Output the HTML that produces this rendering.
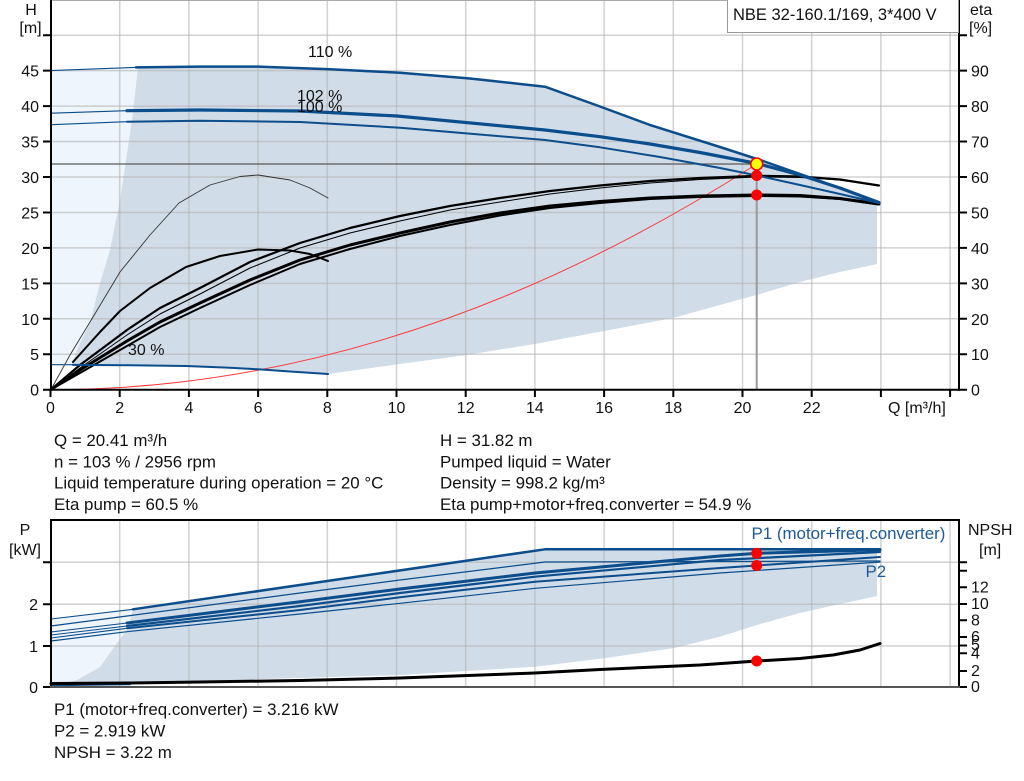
<!DOCTYPE html>
<html><head><meta charset="utf-8"><style>
html,body{margin:0;padding:0;background:#fff;}
svg{display:block;}
text{font-family:"Liberation Sans",Arial,sans-serif;fill:#111;}
</style></head><body>
<svg width="1024" height="781" viewBox="0 0 1024 781" xmlns="http://www.w3.org/2000/svg">
<rect width="1024" height="781" fill="#fff"/>

<!-- ============ TOP CHART ============ -->
<polygon fill="#eef5fc" points="51,70.6 138,67.3 132,120 120,200 110,250 100,283 90,323 80,343 72,363 72,365 51,364.7"/>
<polygon fill="#d0dce8" points="138,67.3 200,66.6 258,66.6 330,69.3 400,72.7 470,78.5 545,86.7 600,106.5 650,125 720,147 763,161 820,181 877,202 877,264 840,272 800,282 760,294 720,305 673,318 600,331.7 535,344 466.7,355 400,364 328,374 290,371.5 258,369.3 230,367.8 186,366 130,365.2 72,365 72,363 80,343 90,323 100,283 110,250 120,200 132,120"/>

<g stroke="#b4b4b4" stroke-opacity="0.6" stroke-width="1.5" fill="none">
  <path d="M119.7,0V389.7M188.9,0V389.7M258.1,0V389.7M327.3,0V389.7M396.5,0V389.7M465.7,0V389.7M534.9,0V389.7M604.1,0V389.7M673.3,0V389.7M742.5,0V389.7M811.7,0V389.7M880.9,0V389.7M950.1,0V389.7"/>
  <path d="M51,354.25H959M51,318.8H959M51,283.35H959M51,247.9H959M51,212.45H959M51,177H959M51,141.55H959M51,106.1H959M51,70.65H959M51,35.2H959"/>
</g>
<line x1="51" y1="0.5" x2="959" y2="0.5" stroke="#aaa" stroke-width="1"/>

<!-- red system curve -->
<path d="M50.5,389.7 Q403.6,389.7 756.7,164" fill="none" stroke="#ff3a3a" stroke-width="1"/>

<!-- operating point lines -->
<line x1="51" y1="164" x2="756.7" y2="164" stroke="#5a5a5a" stroke-width="1.3"/>
<line x1="756.7" y1="164" x2="756.7" y2="389.7" stroke="#999" stroke-width="2"/>

<!-- eta curves -->
<g fill="none" stroke="#000" stroke-linejoin="round" stroke-linecap="round">
  <polyline stroke-width="0.9" stroke="#333" points="51,389.5 70,355 90,322 120,272 150,235 179,203 210,185 240,176.5 258,175 290,180 310,188 328,198"/>
  <polyline stroke-width="2" points="73,362 100,332 120,311 150,288 186,267 220,256 258,249.5 290,250.5 310,254 328,261"/>
  <polyline stroke-width="1" points="51,389.5 80,368 127,335 160,314 200,294 250,268 300,248 350,233 400,221 450,210 500,202 550,194 600,188 650,183 700,179.5 757,177 800,177.5 840,180 879,186"/>
  <polyline stroke-width="2.2" points="51,389.5 80,365 127,330 160,308 200,288 250,262 300,243 350,228 400,216 450,206 500,198 550,191 600,185.5 650,181 700,178 757,175.8 800,176.5 840,179.5 879,185.5"/>
  <polyline stroke-width="2" points="51,389.5 80,373 127,346 160,327 200,308 250,285 300,264 350,249 400,236 450,225 500,215.5 550,208 600,203 650,199 700,197 757,196 800,196.5 840,199 879,204.5"/>
  <polyline stroke-width="3" points="51,389.5 80,370 127,341 160,322 200,303 250,280 300,260 350,245 400,233 450,222 500,213 550,206 600,201.5 650,198 700,196 757,195 800,195.5 840,198.5 879,204"/>
</g>

<!-- blue H curves -->
<g fill="none" stroke="#0c4d8c" stroke-linejoin="round" stroke-linecap="round">
  <polyline stroke-width="1.1" points="51,70.6 138,67.3"/>
  <polyline stroke-width="2.5" points="136,67.4 200,66.6 258,66.6 330,69.3 400,72.7 470,78.5 545,86.7 600,106.5 650,125 720,147 763,161 820,181 879,202.5"/>
  <polyline stroke-width="1.1" points="51,113.2 127,110.7"/>
  <polyline stroke-width="3.2" points="127,110.7 200,110 300,111 397,116 545,130 600,136.7 650,144 700,152.5 757,163.5 800,175 840,188 879,202.5"/>
  <polyline stroke-width="1.1" points="51,124.7 127,121.7"/>
  <polyline stroke-width="2" points="127,121.7 200,120.7 300,122 400,127.7 545,140 600,147.3 660,157 720,168 757,175.5 800,185 840,194 879,203"/>
  <polyline stroke-width="1.1" points="51,364.7 73,364.7"/>
  <polyline stroke-width="2" points="73,364.9 130,365.2 186,366 230,367.8 258,369.3 290,371.5 328,374"/>
</g>

<!-- markers -->
<circle cx="756.7" cy="195" r="5.5" fill="#ff0000"/>
<circle cx="756.7" cy="175.5" r="5.5" fill="#ff0000"/>
<circle cx="756.7" cy="164" r="6" fill="#ffff00" stroke="#ff0000" stroke-width="1.6"/>

<!-- axes -->
<g stroke="#000" stroke-width="2" fill="none">
  <line x1="51" y1="0" x2="51" y2="390.7"/>
  <line x1="50" y1="389.7" x2="960" y2="389.7"/>
  <line x1="959" y1="0" x2="959" y2="390.7"/>
  <path d="M43,389.7H51M43,354.25H51M43,318.8H51M43,283.35H51M43,247.9H51M43,212.45H51M43,177H51M43,141.55H51M43,106.1H51M43,70.65H51M43,35.2H51"/>
  <path d="M959,389.7H967M959,354.25H967M959,318.8H967M959,283.35H967M959,247.9H967M959,212.45H967M959,177H967M959,141.55H967M959,106.1H967M959,70.65H967M959,35.2H967"/>
  <path d="M50.5,389.7V397M119.7,389.7V397M188.9,389.7V397M258.1,389.7V397M327.3,389.7V397M396.5,389.7V397M465.7,389.7V397M534.9,389.7V397M604.1,389.7V397M673.3,389.7V397M742.5,389.7V397M811.7,389.7V397M880.9,389.7V397M950.1,389.7V397"/>
</g>

<!-- title box -->
<rect x="727.5" y="-1" width="231" height="33.5" fill="#fff" stroke="#999" stroke-width="1"/>
<text x="733" y="20" font-size="16.5">NBE 32-160.1/169, 3*400 V</text>

<!-- curve labels -->
<text x="308" y="57" font-size="16">110 %</text>
<text x="297" y="101" font-size="16">102 %</text>
<text x="297" y="112" font-size="16">100 %</text>
<text x="128" y="355" font-size="16">30 %</text>

<!-- axis labels top -->
<g font-size="16" text-anchor="end">
  <text x="39" y="395.7">0</text>
  <text x="39" y="360.2">5</text>
  <text x="39" y="324.8">10</text>
  <text x="39" y="289.3">15</text>
  <text x="39" y="253.9">20</text>
  <text x="39" y="218.4">25</text>
  <text x="39" y="183">30</text>
  <text x="39" y="147.5">35</text>
  <text x="39" y="112.1">40</text>
  <text x="39" y="76.6">45</text>
</g>
<text x="31" y="15" font-size="16" text-anchor="middle">H</text>
<text x="30.5" y="33" font-size="16" text-anchor="middle">[m]</text>
<g font-size="16">
  <text x="971" y="395.7">0</text>
  <text x="971" y="360.2">10</text>
  <text x="971" y="324.8">20</text>
  <text x="971" y="289.3">30</text>
  <text x="971" y="253.9">40</text>
  <text x="971" y="218.4">50</text>
  <text x="971" y="183">60</text>
  <text x="971" y="147.5">70</text>
  <text x="971" y="112.1">80</text>
  <text x="971" y="76.6">90</text>
  <text x="970" y="15">eta</text>
  <text x="969" y="33">[%]</text>
</g>
<g font-size="16" text-anchor="middle">
  <text x="50.5" y="413">0</text>
  <text x="119.7" y="413">2</text>
  <text x="188.9" y="413">4</text>
  <text x="258.1" y="413">6</text>
  <text x="327.3" y="413">8</text>
  <text x="396.5" y="413">10</text>
  <text x="465.7" y="413">12</text>
  <text x="534.9" y="413">14</text>
  <text x="604.1" y="413">16</text>
  <text x="673.3" y="413">18</text>
  <text x="742.5" y="413">20</text>
  <text x="811.7" y="413">22</text>
</g>
<text x="888" y="413" font-size="16">Q [m³/h]</text>

<!-- info text -->
<g font-size="16.9">
  <text x="54" y="446">Q = 20.41 m³/h</text>
  <text x="54" y="467.3">n = 103 % / 2956 rpm</text>
  <text x="54" y="488.6">Liquid temperature during operation = 20 °C</text>
  <text x="54" y="510">Eta pump = 60.5 %</text>
  <text x="440" y="446">H = 31.82 m</text>
  <text x="440" y="467.3">Pumped liquid = Water</text>
  <text x="440" y="488.6">Density = 998.2 kg/m³</text>
  <text x="440" y="510">Eta pump+motor+freq.converter = 54.9 %</text>
</g>

<!-- ============ BOTTOM CHART ============ -->
<polygon fill="#eef5fc" points="51,619 133,609.3 127,630 117,643 100,667 77,680 51,685.5"/>
<polygon fill="#d0dce8" points="133,609.3 545,549.3 877,549.3 877,596 840,604 800,613 760,624 720,636.7 673,648.3 604,658.3 535,666.7 466,671 400,675 300,678 200,681 120,683 77,684.5 51,686 51,685.5 77,680 100,667 117,643 127,630"/>

<g stroke="#b4b4b4" stroke-opacity="0.6" stroke-width="1.5" fill="none">
  <path d="M119.7,520V687M188.9,520V687M258.1,520V687M327.3,520V687M396.5,520V687M465.7,520V687M534.9,520V687M604.1,520V687M673.3,520V687M742.5,520V687M811.7,520V687M880.9,520V687M950.1,520V687"/>
  <path d="M51,562.3H959M51,604.2H959M51,646H959"/>
</g>

<!-- power curves -->
<g fill="none" stroke="#0c4d8c" stroke-linejoin="round" stroke-linecap="round">
  <polyline stroke-width="1.1" points="51,619 133,609.3"/>
  <polyline stroke-width="2.5" points="133,609.3 545,549.3 880,549.3"/>
  <polyline stroke-width="1.2" points="51,626 127,616 300,593 400,580 545,562 880,561"/>
  <polyline stroke-width="1.1" points="51,632 127,623"/>
  <polyline stroke-width="3" points="127,623 300,601.7 400,589 535,573 720,556 757,553.3 880,549.8"/>
  <polyline stroke-width="1.1" points="51,635 127,626"/>
  <polyline stroke-width="2.2" points="127,626 300,606 400,593 535,576.7 720,560 880,552"/>
  <polyline stroke-width="1.1" points="51,638 127,628.3"/>
  <polyline stroke-width="2" points="127,628.3 300,610 400,597.3 535,581.7 720,568 757,565.5 880,557"/>
  <polyline stroke-width="1.2" points="51,641 127,631.7 300,614 400,603.3 535,588.3 720,573 880,562"/>
  <polyline stroke-width="1.5" points="51,685.5 130,684.5"/>
</g>
<!-- NPSH curve -->
<polyline fill="none" stroke="#000" stroke-width="3" stroke-linejoin="round" stroke-linecap="round" points="51,683.5 130,683 200,682 300,680.5 400,678 535,673 600,669.5 700,665 757,661 800,658.5 833,655 860,650 880,643.5"/>

<circle cx="756.7" cy="553.3" r="5.5" fill="#ff0000"/>
<circle cx="756.7" cy="565.5" r="5.5" fill="#ff0000"/>
<circle cx="756.7" cy="661" r="5.5" fill="#ff0000"/>

<!-- axes bottom chart -->
<g stroke="#000" stroke-width="2" fill="none">
  <line x1="50" y1="520" x2="960" y2="520"/>
  <line x1="51" y1="519" x2="51" y2="688"/>
  <line x1="959" y1="519" x2="959" y2="688"/>
  <path d="M43,562.3H51M43,604.2H51M43,646H51M43,687H51"/>
  <path d="M959,562.3H967M959,570.7H967M959,587.3H967M959,604H967M959,620.3H967M959,637H967M959,645.5H967M959,653.3H967M959,671H967M959,687H967"/>
</g>
<line x1="50" y1="687" x2="960" y2="687" stroke="#555" stroke-width="2"/>

<text x="25" y="535" font-size="16" text-anchor="middle">P</text>
<text x="25" y="555" font-size="16" text-anchor="middle">[kW]</text>
<g font-size="16" text-anchor="end">
  <text x="38" y="610">2</text>
  <text x="38" y="651.8">1</text>
  <text x="38" y="692.8">0</text>
</g>
<g font-size="16">
  <text x="968" y="535">NPSH</text>
  <text x="979" y="555">[m]</text>
  <text x="971" y="592.5">12</text>
  <text x="971" y="609">10</text>
  <text x="971" y="625.5">8</text>
  <text x="971" y="642">6</text>
  <text x="971" y="650">5</text>
  <text x="971" y="658.5">4</text>
  <text x="971" y="676">2</text>
  <text x="971" y="692">0</text>
</g>
<text x="751.5" y="539" font-size="16.9" style="fill:#1f5a96">P1 (motor+freq.converter)</text>
<text x="865.5" y="577" font-size="16.9" style="fill:#1f5a96">P2</text>

<!-- bottom info -->
<g font-size="16.9">
  <text x="54" y="715">P1 (motor+freq.converter) = 3.216 kW</text>
  <text x="54" y="736.5">P2 = 2.919 kW</text>
  <text x="54" y="758">NPSH = 3.22 m</text>
</g>
</svg>
</body></html>
